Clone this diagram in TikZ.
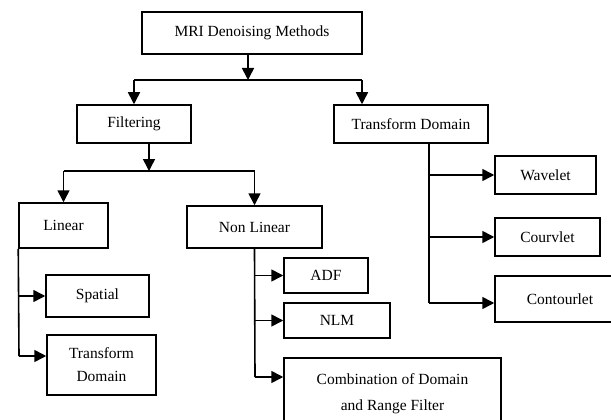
\documentclass[tikz,border=0pt]{standalone}
\usepackage{fontspec}
\setmainfont{Liberation Serif}
\usetikzlibrary{arrows.meta}

\tikzset{
  box/.style={draw, line width=1.5pt, inner sep=0pt, align=center,
    font=\fontsize{15.5}{23}\selectfont},
  link/.style={line width=1.6pt},
  arr/.style={line width=1.6pt, -{Triangle[length=12pt,width=12pt]}}
}

\begin{document}
\begin{tikzpicture}[x=1pt, y=-1pt]
  \useasboundingbox (0,0) rectangle (611,420);
  \clip (0,0) rectangle (611,420);
  \fill[white] (0,0) rectangle (611,420);

  \node[box, minimum width=220pt, minimum height=42pt] (top) at (252,33) {MRI Denoising Methods};
  \node[box, minimum width=114pt, minimum height=38pt] (filt) at (134,124) {Filtering};
  \node[box, minimum width=154pt, minimum height=38pt] (tdom) at (411,124) {Transform Domain};
  \node[box, minimum width=89pt, minimum height=45pt] (lin) at (63.5,225.5) {Linear};
  \node[box, minimum width=135pt, minimum height=42pt] (nonlin) at (254.5,227) {Non Linear};
  \node[box, minimum width=103pt, minimum height=42pt] (spat) at (97.5,296) {Spatial};
  \node[box, minimum width=109pt, minimum height=60pt] (tdlin) at (101.5,365) {Transform\\Domain};
  \node[box, minimum width=84pt, minimum height=35pt] (adf) at (326,275.5) {ADF};
  \node[box, minimum width=106pt, minimum height=35pt] (nlm) at (337,320.5) {NLM};
  \node[box, minimum width=217pt, minimum height=72pt] (comb) at (392.5,394) {Combination of Domain\\[3pt]and Range Filter};
  \node[box, minimum width=101pt, minimum height=38pt] (wav) at (545.5,175) {Wavelet};
  \node[box, minimum width=105pt, minimum height=38pt] (cour) at (547.5,237) {Courvlet};
  \node[box, minimum width=130pt, minimum height=46pt] (cont) at (560,299) {Contourlet};

  % split points
  \coordinate (s1) at (248,80);
  \coordinate (s1l) at (134,80);
  \coordinate (s1r) at (362,80);
  \coordinate (s2) at (149,171);
  \coordinate (s2l) at (63.5,171);
  \coordinate (s2r) at (254.5,171);
  \coordinate (linend) at (19,356);
  \coordinate (nlend) at (255,377);
  \coordinate (tdend) at (429,303);

  \draw[arr] (s1 |- top.south) -- (s1);
  \draw[link] (s1l) -- (s1r);
  \draw[arr] (s1l) -- (filt.north);
  \draw[arr] (s1r) -- (s1r |- tdom.north);

  \draw[arr] (s2 |- filt.south) -- (s2);
  \draw[link] (s2l) -- (s2r);
  \draw[arr] (s2l) -- (lin.north);
  \draw[arr] (s2r) -- (nonlin.north);

  \draw[link] (lin.south west) -- (linend);
  \draw[arr] (lin.west |- spat.west) -- (spat.west);
  \draw[arr] (linend) -- (linend -| tdlin.west);

  \draw[link] (nonlin.south) -- (nlend);
  \draw[arr] (nlend |- adf.west) -- (adf.west);
  \draw[arr] (nlend |- nlm.west) -- (nlm.west);
  \draw[arr] (nlend) -- (nlend -| comb.west);

  \draw[link] (tdend |- tdom.south) -- (tdend);
  \draw[arr] (tdend |- wav.west) -- (wav.west);
  \draw[arr] (tdend |- cour.west) -- (cour.west);
  \draw[arr] (tdend) -- (tdend -| cont.west);
\end{tikzpicture}
\end{document}
